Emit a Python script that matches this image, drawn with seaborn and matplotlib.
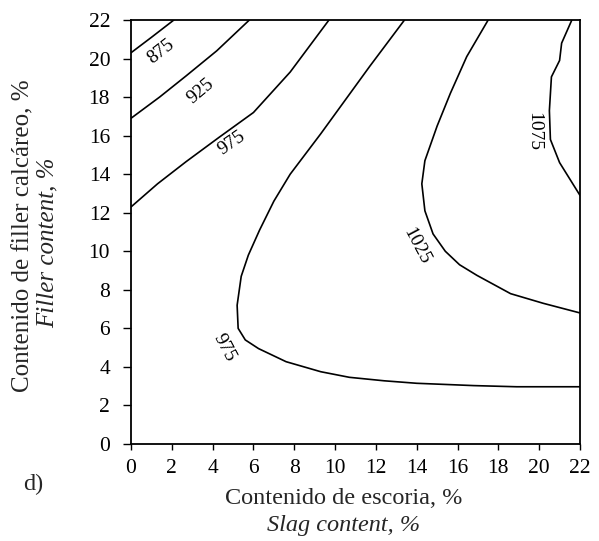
import matplotlib
matplotlib.use('Agg')
import matplotlib.pyplot as plt
import seaborn as sns
import pandas as pd

# Isolines (slag %, filler %)
c875_x = [0.0, 1.0, 2.1]
c875_y = [20.3, 21.1, 22.0]

c925_x = [0.0, 1.4, 2.7, 4.2, 5.8]
c925_y = [16.9, 18.0, 19.1, 20.4, 22.0]

c975a_x = [0.0, 1.3, 2.7, 4.3, 6.0, 7.8, 9.7]
c975a_y = [12.3, 13.5, 14.65, 15.9, 17.2, 19.3, 22.0]

c975b_x = [13.4, 11.7, 9.3, 7.8, 7.0, 6.3, 5.75, 5.4, 5.2, 5.25, 5.6, 6.25,
           7.6, 9.3, 10.7, 12.4, 14.0, 16.8, 18.9, 22.0]
c975b_y = [22.0, 19.6, 16.1, 14.0, 12.6, 11.1, 9.8, 8.7, 7.2, 6.0, 5.4, 4.95,
           4.27, 3.75, 3.46, 3.28, 3.15, 3.03, 2.97, 2.97]

c1025_x = [17.5, 16.45, 15.65, 15.0, 14.4, 14.25, 14.4, 14.8, 15.4, 16.1, 16.95, 18.6, 20.2, 22.0]
c1025_y = [22.0, 20.1, 18.2, 16.5, 14.7, 13.5, 12.1, 10.9, 10.0, 9.3, 8.75, 7.8, 7.3, 6.8]

c1075_x = [21.6, 21.1, 21.0, 20.6, 20.5, 20.55, 21.0, 22.0]
c1075_y = [22.0, 20.8, 19.9, 19.05, 17.3, 15.8, 14.6, 12.9]

# label text, position and angle
lab_text = ['875', '925', '975', '975', '1025', '1075']
lab_x = [1.45, 3.4, 4.95, 4.55, 14.0, 19.75]
lab_y = [20.35, 18.3, 15.6, 5.0, 10.25, 16.2]
lab_rot = [38, 40, 35, -62, -62, -90]

ticks = list(range(0, 23, 2))

sns.set_theme(style='ticks')
plt.rcParams['font.family'] = ['Liberation Serif', 'DejaVu Serif']

fig = plt.figure(figsize=(5.99, 5.41), dpi=100)
ax = fig.add_axes([131 / 599, 1 - 444 / 541, 449 / 599, 424 / 541])

lines = [(c875_x, c875_y), (c925_x, c925_y), (c975a_x, c975a_y),
         (c975b_x, c975b_y), (c1025_x, c1025_y), (c1075_x, c1075_y)]
for xs, ys in lines:
    df = pd.DataFrame({'x': xs, 'y': ys})
    sns.lineplot(data=df, x='x', y='y', sort=False, estimator=None,
                 color='black', linewidth=1.2, ax=ax)

for t, x, y, r in zip(lab_text, lab_x, lab_y, lab_rot):
    ax.text(x, y, t, rotation=r, ha='center', va='center', fontsize=14,
            color='black', rotation_mode='anchor')

ax.set_xlim(0, 22)
ax.set_ylim(0, 22)
ax.set_xticks(ticks)
ax.set_yticks(ticks)
ax.tick_params(direction='out', width=1, labelsize=15.5, colors='black',
               top=False, right=False)
ax.tick_params(axis='y', length=6, pad=9)
ax.tick_params(axis='x', length=4, pad=7)
for s in ax.spines.values():
    s.set_visible(True)
    s.set_linewidth(1.3)
    s.set_color('black')
ax.set_xlabel('')
ax.set_ylabel('')
ax.grid(False)

fig.text(344 / 599, 1 - 504 / 541, 'Contenido de escoria, %', ha='center', va='baseline',
         fontsize=17.5)
fig.text(344 / 599, 1 - 531 / 541, 'Slag content, %', ha='center', va='baseline',
         fontsize=17.5, style='italic')
fig.text(33 / 599, 1 - 490 / 541, 'd)', ha='center', va='baseline', fontsize=17.5)
fig.text(23 / 599, 1 - 236 / 541, 'Contenido de filler calcáreo, %', ha='center',
         va='center', rotation=90, fontsize=18)
fig.text(48 / 599, 1 - 243 / 541, 'Filler content, %', ha='center', va='center',
         rotation=90, fontsize=18, style='italic')

fig.savefig('out.png', dpi=100, facecolor='white')
